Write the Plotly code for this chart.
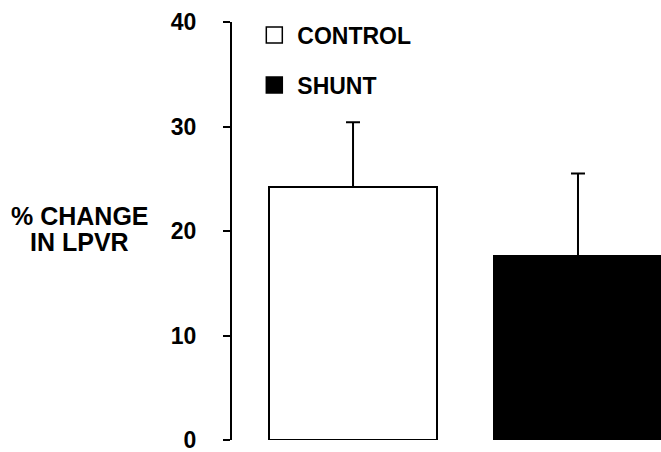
import plotly.graph_objects as go

groups = ["CONTROL", "SHUNT"]
means = [24.2, 17.6]
sem_upper = [6.2, 7.9]
fills = ["white", "black"]
y_ticks = [0, 10, 20, 30, 40]
y_title_lines = ["% CHANGE", "IN LPVR"]

FONT = "Liberation Sans, Arial, sans-serif"

fig = go.Figure()
for i, g in enumerate(groups):
    fig.add_trace(go.Bar(
        x=[i], y=[means[i]], width=0.75,
        marker=dict(color=fills[i], line=dict(color="black", width=2)),
        error_y=dict(type="data", array=[sem_upper[i]], arrayminus=[0],
                     symmetric=False, color="black", thickness=2, width=7),
        showlegend=False,
    ))
    fig.add_trace(go.Scatter(
        x=[None], y=[None], mode="markers", name=g,
        legendgroup=g,
        marker=dict(symbol="square", size=16, color=fills[i],
                    line=dict(color="black", width=1.5)),
    ))

fig.update_layout(
    width=661, height=452,
    margin=dict(l=232, r=0, t=22, b=12, autoexpand=False),
    paper_bgcolor="white", plot_bgcolor="white",
    font=dict(family=FONT, color="black"),
    bargap=0,
    legend=dict(x=0.045, y=1.02, xanchor="left", yanchor="top",
                font=dict(size=23, family=FONT, weight="bold"),
                itemwidth=36, tracegroupgap=17,
                bgcolor="rgba(0,0,0,0)"),
    xaxis=dict(range=[-0.538, 1.369], showline=False, showticklabels=False,
               ticks="", showgrid=False, zeroline=False),
    yaxis=dict(range=[0, 40], tickvals=y_ticks,
               ticktext=[str(v) for v in y_ticks],
               showline=True, linecolor="black", linewidth=2,
               ticks="outside", ticklen=7, tickwidth=2, tickcolor="black",
               ticklabelstandoff=22, automargin=False,
               ticklabeloverflow="allow",
               tickfont=dict(size=23, family=FONT, weight="bold"),
               showgrid=False, zeroline=False),
    annotations=[dict(text=t, xref="paper", yref="paper",
                      x=-0.355, y=yy, xanchor="center", yanchor="middle",
                      showarrow=False, align="center", height=25,
                      valign="middle",
                      font=dict(size=25, family=FONT, weight="bold"))
                 for t, yy in zip(y_title_lines, [0.537, 0.475])],
)

fig.write_html("out.html", config={"displayModeBar": False},
               post_script="document.body.style.margin='0';")
